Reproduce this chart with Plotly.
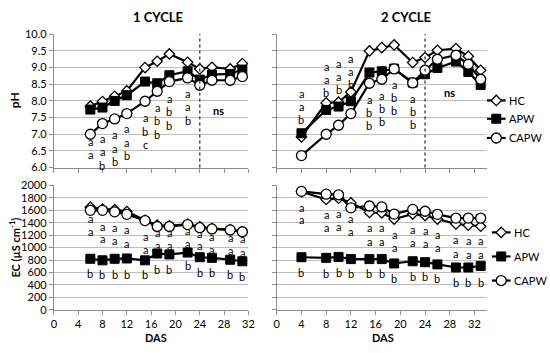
import plotly.graph_objects as go

# ---------------- data ----------------
days1 = [6, 8, 10, 12, 15, 17, 19, 22, 24, 26, 29, 31]
days2 = [4, 8, 10, 12, 15, 17, 19, 22, 24, 26, 29, 31, 33]

ph1_hc = [7.84, 7.98, 8.14, 8.30, 9.00, 9.19, 9.41, 9.16, 8.96, 9.01, 8.96, 9.12]
ph1_apw = [7.74, 7.80, 8.00, 8.17, 8.58, 8.53, 8.77, 8.89, 8.64, 8.79, 8.81, 8.94]
ph1_capw = [7.00, 7.32, 7.46, 7.62, 7.99, 8.29, 8.58, 8.69, 8.47, 8.62, 8.62, 8.73]

ph2_hc = [6.92, 7.94, 7.96, 8.27, 9.50, 9.60, 9.68, 9.15, 9.30, 9.52, 9.57, 9.34, 8.92]
ph2_apw = [7.03, 7.73, 7.83, 7.99, 8.85, 8.89, 8.97, 8.55, 8.80, 8.99, 9.18, 8.87, 8.48]
ph2_capw = [6.36, 7.00, 7.27, 7.62, 8.53, 8.65, 8.96, 8.54, 8.92, 9.25, 9.37, 9.10, 8.65]

ec1_hc = [1650, 1620, 1610, 1580, 1440, 1360, 1350, 1380, 1335, 1305, 1290, 1255]
ec1_apw = [820, 795, 820, 825, 795, 905, 890, 920, 845, 835, 805, 780]
ec1_capw = [1600, 1600, 1575, 1535, 1435, 1340, 1340, 1370, 1320, 1300, 1285, 1255]

ec2_hc = [1900, 1775, 1795, 1720, 1565, 1560, 1460, 1540, 1515, 1460, 1380, 1360, 1345]
ec2_apw = [845, 835, 850, 815, 815, 815, 745, 780, 765, 730, 680, 680, 705]
ec2_capw = [1905, 1860, 1850, 1640, 1670, 1655, 1540, 1615, 1585, 1535, 1475, 1475, 1475]

# significance letters (pH): days, letter stacks, y of top letter
ph1_let_days = [6, 8, 10, 12, 15, 17, 19, 22]
ph1_let = ["aab", "aab", "aab", "aab", "abc", "abb", "abb", "aab"]
ph1_let_top = [6.79, 6.87, 6.98, 7.16, 7.49, 7.80, 8.07, 8.22]

ph2_let_days = [4, 8, 10, 12, 15, 17, 19, 22]
ph2_let = ["aab", "aab", "aab", "aab", "abb", "abb", "abb", "abb"]
ph2_let_top = [8.22, 9.04, 9.13, 9.28, 8.04, 8.17, 8.48, 8.07]

# significance letters (EC): first "a", second "a", "b"
ec1_a1 = [1466, 1337, 1321, 1285, 1171, 1244, 1244, 1269, 1223, 1181, 1155, 1140]
ec1_a2 = [1259, 1140, 1114, 1067, 964, 1036, 1026, 1062, 1026, 974, 948, 922]
ec1_b = [585, 560, 575, 575, 560, 653, 653, 715, 596, 596, 560, 534]

ec2_a1 = [1652, 1535, 1550, 1473, 1320, 1320, 1217, 1294, 1279, 1217, 1125, 1115, 1115]
ec2_a2 = [1448, 1320, 1335, 1258, 1100, 1100, 1003, 1089, 1064, 997, 910, 895, 895]
ec2_b = [604, 588, 604, 578, 578, 578, 501, 537, 527, 501, 435, 435, 435]

series_names = ["HC", "APW", "CAPW"]
ns_label = "ns"
split_day = 24

# ---------------- styling / layout constants ----------------
W, H = 550, 353
FONT = "Lato, 'Open Sans', sans-serif"
TXT = "#000000"
GRID = "#bdbdbd"
AXL = "#8c8c8c"
marker_styles = {
    "HC": dict(symbol="diamond", size=8, color="white", line=dict(color="black", width=1.3)),
    "APW": dict(symbol="square", size=9, color="black", line=dict(color="black", width=1)),
    "CAPW": dict(symbol="circle", size=10, color="white", line=dict(color="black", width=1.3)),
}
# legend boxes (pixel layout): left of glyph line, glyph length, row centres
legend_boxes = [
    dict(x0=492, length=19, rows=[97, 116, 136]),
    dict(x0=497, length=19, rows=[234, 259, 284]),
]

fig = go.Figure()

panels = [
    ("x", "y", days1, [ph1_hc, ph1_apw, ph1_capw]),
    ("x2", "y2", days2, [ph2_hc, ph2_apw, ph2_capw]),
    ("x3", "y3", days1, [ec1_hc, ec1_apw, ec1_capw]),
    ("x4", "y4", days2, [ec2_hc, ec2_apw, ec2_capw]),
]
for xa, ya, d, ser in panels:
    for name, vals in zip(series_names, ser):
        fig.add_trace(go.Scatter(
            x=d, y=vals, mode="lines+markers", name=name,
            line=dict(color="black", width=2.2),
            marker=marker_styles[name],
            xaxis=xa, yaxis=ya, showlegend=False))

annotations = []

# legend glyphs drawn on a hidden full-figure pixel axis
for box in legend_boxes:
    for name, yrow in zip(series_names, box["rows"]):
        x0 = box["x0"]
        x1 = x0 + box["length"]
        fig.add_trace(go.Scatter(
            x=[x0, x1], y=[yrow, yrow], mode="lines",
            line=dict(color="black", width=2.2), xaxis="x5", yaxis="y5",
            showlegend=False, hoverinfo="skip"))
        fig.add_trace(go.Scatter(
            x=[(x0 + x1) / 2], y=[yrow], mode="markers",
            marker=marker_styles[name], xaxis="x5", yaxis="y5",
            showlegend=False, hoverinfo="skip"))
        annotations.append(dict(
            x=x1 + 1, y=yrow, xref="x5", yref="y5", text=name, showarrow=False,
            xanchor="left", yanchor="middle",
            font=dict(size=11, color=TXT, family=FONT)))

def letter(xref, yref, x, y, t, bold=False):
    annotations.append(dict(
        x=x, y=y, xref=xref, yref=yref, text=("<b>%s</b>" % t) if bold else t,
        showarrow=False, xanchor="center", yanchor="middle",
        font=dict(size=11, color=TXT, family=FONT)))

for d, s, top in zip(ph1_let_days, ph1_let, ph1_let_top):
    for i, ch in enumerate(s):
        letter("x", "y", d, top - 0.40 * i, ch)
for d, s, top in zip(ph2_let_days, ph2_let, ph2_let_top):
    for i, ch in enumerate(s):
        letter("x2", "y2", d, top - 0.39 * i, ch)
for d, a1, a2, b in zip(days1, ec1_a1, ec1_a2, ec1_b):
    letter("x3", "y3", d, a1, "a")
    letter("x3", "y3", d, a2, "a")
    letter("x3", "y3", d, b, "b")
for d, a1, a2, b in zip(days2, ec2_a1, ec2_a2, ec2_b):
    letter("x4", "y4", d, a1, "a")
    letter("x4", "y4", d, a2, "a")
    letter("x4", "y4", d, b, "b")

letter("x", "y", 27.0, 7.71, ns_label, bold=True)
letter("x2", "y2", 28.0, 8.24, ns_label, bold=True)

def ptext(x, y, t, size=12, angle=0, yanchor="middle"):
    annotations.append(dict(
        x=x / W, y=1 - y / H, xref="paper", yref="paper", text=t,
        showarrow=False, xanchor="center", yanchor=yanchor, textangle=angle,
        font=dict(size=size, color=TXT, family=FONT)))

ptext(158, 10, "<b>1 CYCLE</b>", 13)
ptext(410, 10, "<b>2 CYCLE</b>", 13)
ptext(12, 97, "<b>pH</b>", 12, -90)
ptext(12, 250, "<b>EC (µS cm<sup>-1</sup>)</b>", 11, -90)
ptext(156, 352, "<b>DAS</b>", 11, yanchor="bottom")
ptext(386, 352, "<b>DAS</b>", 11, yanchor="bottom")

shapes = []
for xr, yr in [("x", "y domain"), ("x2", "y2 domain")]:
    shapes.append(dict(type="line", xref=xr, yref=yr, x0=split_day, x1=split_day,
                       y0=0, y1=1, line=dict(color="#333", width=1.3, dash="dot")))

# panel geometry (pixels -> paper)
xl = [51.7 / W, 249.5 / W]
xr_ = [278.3 / W, 491.9 / W]
yt = [1 - 166.7 / H, 1 - 28.3 / H]
yb = [1 - 314.3 / H, 1 - 185.3 / H]

def xax(domain, anchor, rng, labels):
    return dict(domain=domain, anchor=anchor, range=rng, tick0=0, dtick=4,
                showticklabels=labels, ticks="outside", ticklen=4, tickcolor=AXL,
                showgrid=False, zeroline=False, showline=True, linecolor=AXL,
                linewidth=1, tickfont=dict(size=11, color=TXT, family=FONT))

def yax(domain, anchor, rng, dtick, labels, fmt):
    return dict(domain=domain, anchor=anchor, range=rng, dtick=dtick, tick0=0,
                showticklabels=labels, tickformat=fmt, ticks="outside", ticklen=4,
                tickcolor=AXL, showgrid=True, gridcolor=GRID, gridwidth=1,
                zeroline=False, showline=True, linecolor=AXL, linewidth=1,
                tickfont=dict(size=11, color=TXT, family=FONT))

fig.update_layout(
    width=W, height=H, margin=dict(l=0, r=0, t=0, b=0),
    paper_bgcolor="white", plot_bgcolor="rgba(0,0,0,0)",
    font=dict(family=FONT, color=TXT, size=11),
    showlegend=False,
    xaxis=xax(xl, "y", [0, 32], False),
    yaxis=yax(yt, "x", [6, 10], 0.5, True, ".1f"),
    xaxis2=xax(xr_, "y2", [0, 34], False),
    yaxis2=yax(yt, "x2", [6, 10], 0.5, False, ".1f"),
    xaxis3=xax(xl, "y3", [0, 32], True),
    yaxis3=yax(yb, "x3", [0, 2000], 200, True, "d"),
    xaxis4=xax(xr_, "y4", [0, 34], True),
    yaxis4=yax(yb, "x4", [0, 2000], 200, False, "d"),
    xaxis5=dict(domain=[0, 1], anchor="y5", range=[0, W], visible=False, fixedrange=True),
    yaxis5=dict(domain=[0, 1], anchor="x5", range=[H, 0], visible=False, fixedrange=True),
    annotations=annotations, shapes=shapes,
)

fig.write_html("out.html",
               config={"displayModeBar": False, "staticPlot": True},
               post_script="document.body.style.margin='0px';document.body.style.overflow='hidden';")
